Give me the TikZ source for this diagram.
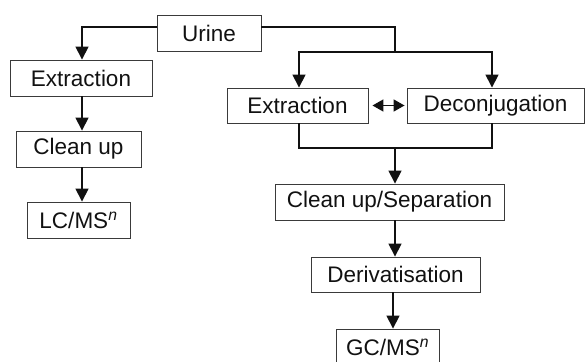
\documentclass[tikz,border=0pt]{standalone}
\usepackage{fontspec}
\setmainfont{Liberation Sans}
\usepackage{tikz}
\usetikzlibrary{arrows.meta,positioning,calc}
\definecolor{ink}{HTML}{111111}
\definecolor{frame}{HTML}{3A3A3A}

\begin{document}
\begin{tikzpicture}[
  x=1pt, y=-1pt,
  font=\fontsize{22.5}{25}\selectfont,
  stage/.style={draw=frame, line width=0.9pt, minimum height=36pt, inner sep=0pt, text=ink},
  flow/.style={draw=ink, line width=1.6pt, -{Triangle[length=13pt,width=13pt]}},
  link/.style={draw=ink, line width=1.6pt},
  swap/.style={draw=ink, line width=1.6pt, {Triangle[length=11pt,width=12pt]}-{Triangle[length=11pt,width=12pt]}}
]
\useasboundingbox (0,0) rectangle (585,361);
\clip (0,0) rectangle (585,361);
\node[stage, minimum width=142pt] (lext) at (81,78) {Extraction};
\node[stage, minimum width=104pt] (urine) at (209,33) {Urine};
\node[stage, minimum width=125pt] (lclean) at (78.5,149) {Clean up};
\node[stage, minimum width=103pt] (lcms) at (78.5,220) {LC/MS\textsuperscript{\textit{n}}};
\node[stage, minimum width=141pt, minimum height=35pt] (rext) at (297.5,105.5) {Extraction};
\node[stage, minimum width=177pt, minimum height=35pt] (dec) at (495.5,105.5) {Deconjugation};
\node[stage, minimum width=229pt] (csep) at (389.5,202) {Clean up/Separation};
\node[stage, minimum width=169pt, minimum height=35pt] (deriv) at (395.5,274.5) {Derivatisation};
\node[stage, minimum width=103pt] (gcms) at (387.5,347) {GC/MS\textsuperscript{\textit{n}}};

\coordinate (left) at (82,0);
\coordinate (split) at (395,52);
\coordinate (join) at (395,148);
\coordinate (low) at (393,300);

\draw[flow] ([yshift=6pt]urine.west) -| (lext.north -| left);
\draw[flow] (lext.south -| left) -- (lclean.north -| left);
\draw[flow] (lclean.south -| left) -- (lcms.north -| left);

\draw[link] ([yshift=6pt]urine.east) -| (split);
\draw[flow] (split) -| ([xshift=1.5pt]rext.north);
\draw[flow] (split) -| ([xshift=-3.5pt]dec.north);
\draw[swap] ([xshift=4pt]rext.east) -- ([xshift=-2pt]dec.west);
\draw[link] ([xshift=1.5pt]rext.south) |- (join) -| ([xshift=-3.5pt]dec.south);
\draw[flow] (join) -- (csep.north -| join);
\draw[flow] (csep.south -| split) -- (deriv.north -| split);
\draw[flow] (deriv.south -| low) -- (gcms.north -| low);
\end{tikzpicture}
\end{document}
